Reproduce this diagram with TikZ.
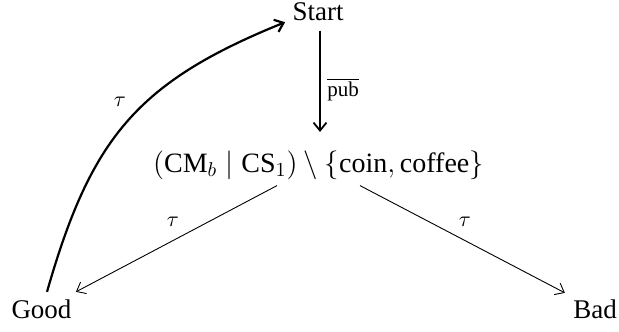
\documentclass[tikz,border=0pt]{standalone}
\usepackage{fontspec}
\setmainfont{Liberation Serif}
\usetikzlibrary{arrows.meta,calc}
\begin{document}
\begin{tikzpicture}[x=0.5pt,y=-0.5pt,
  state/.style={inner sep=0pt, anchor=base, font=\fontsize{13.5pt}{16pt}\selectfont},
  lbl/.style={inner sep=0pt, font=\fontsize{10.5pt}{12pt}\selectfont},
  tip/.style={-{Straight Barb[length=4pt,width=6.5pt]}},
  thickedge/.style={tip, line width=0.9pt},
  thinedge/.style={tip, line width=0.45pt}]
\useasboundingbox (0,0) rectangle (619,331);
\node[state] (start) at (318,21) {Start};
\node[state, font=\fontsize{14pt}{16pt}\selectfont] (mid) at (318.5,172) {$(\mbox{CM}_b \mid \mbox{CS}_1) \setminus \{\mbox{coin}, \mbox{coffee}\}$};
\node[state] (good) at (41.5,318) {Good};
\node[state] (bad) at (595,318) {Bad};
% vertical arrow
\draw[thickedge] ($(start.south)+(2,9)$) -- ($(start.south |- mid.north)+(2,-18)$);
\node[lbl, anchor=base west] (pub) at (327,97) {$\overline{\mbox{pub}}$};
% diagonal arrows
\draw[thinedge] ($(mid.south)+(-41.5,6)$) -- ($(good.north east)+(4,-7)$);
\draw[thinedge] ($(mid.south)+(41.5,6)$) -- ($(bad.north west)+(-8,-6)$);
\node[lbl] (tl) at (173,222) {$\tau$};
\node[lbl] (tr) at (465,222) {$\tau$};
% curved back arrow
\draw[tip, line width=1.1pt] ($(good.north)+(5.5,-7)$) .. controls +(44,-154) and +(-148,60) .. ($(start.west)+(-7,10)$);
\node[lbl] (tc) at (120,102) {$\tau$};
\end{tikzpicture}
\end{document}
